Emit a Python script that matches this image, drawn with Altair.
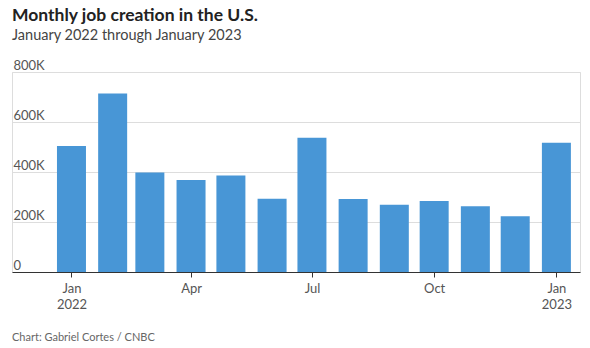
import altair as alt
import pandas as pd

months = ["2022-01-01", "2022-02-01", "2022-03-01", "2022-04-01", "2022-05-01",
          "2022-06-01", "2022-07-01", "2022-08-01", "2022-09-01", "2022-10-01",
          "2022-11-01", "2022-12-01", "2023-01-01"]
jobs = [504000, 714000, 398000, 368000, 386000, 293000, 537000,
        292000, 269000, 284000, 263000, 223000, 517000]
y_ticks = [0, 200000, 400000, 600000, 800000]
title_text = "Monthly job creation in the U.S."
subtitle_text = "January 2022 through January 2023"
footer_text = "Chart: Gabriel Cortes / CNBC"

df = pd.DataFrame({"month": months, "jobs": jobs})

FONT = "Lato"
BAR = "#4896d6"

x_vals = [alt.DateTime(year=2022, month=1, date=1, utc=True),
          alt.DateTime(year=2022, month=4, date=1, utc=True),
          alt.DateTime(year=2022, month=7, date=1, utc=True),
          alt.DateTime(year=2022, month=10, date=1, utc=True),
          alt.DateTime(year=2023, month=1, date=1, utc=True)]

bars = alt.Chart(df).mark_bar(color=BAR, size=29).encode(
    x=alt.X("month:T", title=None,
            scale=alt.Scale(type="utc", nice=False,
                            domain=[alt.DateTime(year=2021, month=11, date=21, utc=True),
                                    alt.DateTime(year=2023, month=1, date=15, utc=True)]),
            axis=alt.Axis(values=x_vals,
                          labelExpr="utcmonth(datum.value) == 0 ? [utcFormat(datum.value, '%b'), utcFormat(datum.value, '%Y')] : utcFormat(datum.value, '%b')",
                          domain=True, domainColor="#333333", domainWidth=1,
                          ticks=True, tickColor="#333333", tickSize=5,
                          grid=False, labelPadding=5, labelFlush=False,
                          labelFont=FONT, labelFontSize=13, labelColor="#555555",
                          labelLineHeight=16)),
    y=alt.Y("jobs:Q", title=None,
            scale=alt.Scale(domain=[0, 800000], nice=False),
            axis=alt.Axis(values=y_ticks,
                          labelExpr="datum.value == 0 ? '0' : format(datum.value / 1000, 'd') + 'K'",
                          domain=False, ticks=False, tickSize=0,
                          grid=True, gridColor="#dddddd", gridWidth=1,
                          labelAlign="left", labelBaseline="alphabetic",
                          labelPadding=-1, labelOffset=-3, labelFlush=False,
                          labelFont=FONT, labelFontSize=13, labelColor="#555555")),
)

footer = alt.Chart(alt.Data(values=[{"t": footer_text}])).mark_text(
    align="left", baseline="middle", font=FONT, fontSize=11, color="#666666"
).encode(text="t:N", x=alt.value(0), y=alt.value(266))

chart = alt.layer(bars, footer).properties(
    width=568, height=200,
    autosize=alt.AutoSizeParams(type="none"),
    padding={"left": 12, "top": 72, "right": 10, "bottom": 76},
    title=alt.TitleParams(text=title_text, subtitle=subtitle_text, anchor="start",
                          font=FONT, fontSize=17.5, fontWeight="bold", color="#222222",
                          subtitleFont=FONT, subtitleFontSize=14.5, subtitleColor="#444444",
                          subtitlePadding=4.5, offset=17),
).configure_view(stroke=None).configure(background="white")

chart.save("out.html", embed_options={"renderer": "svg", "actions": False})
